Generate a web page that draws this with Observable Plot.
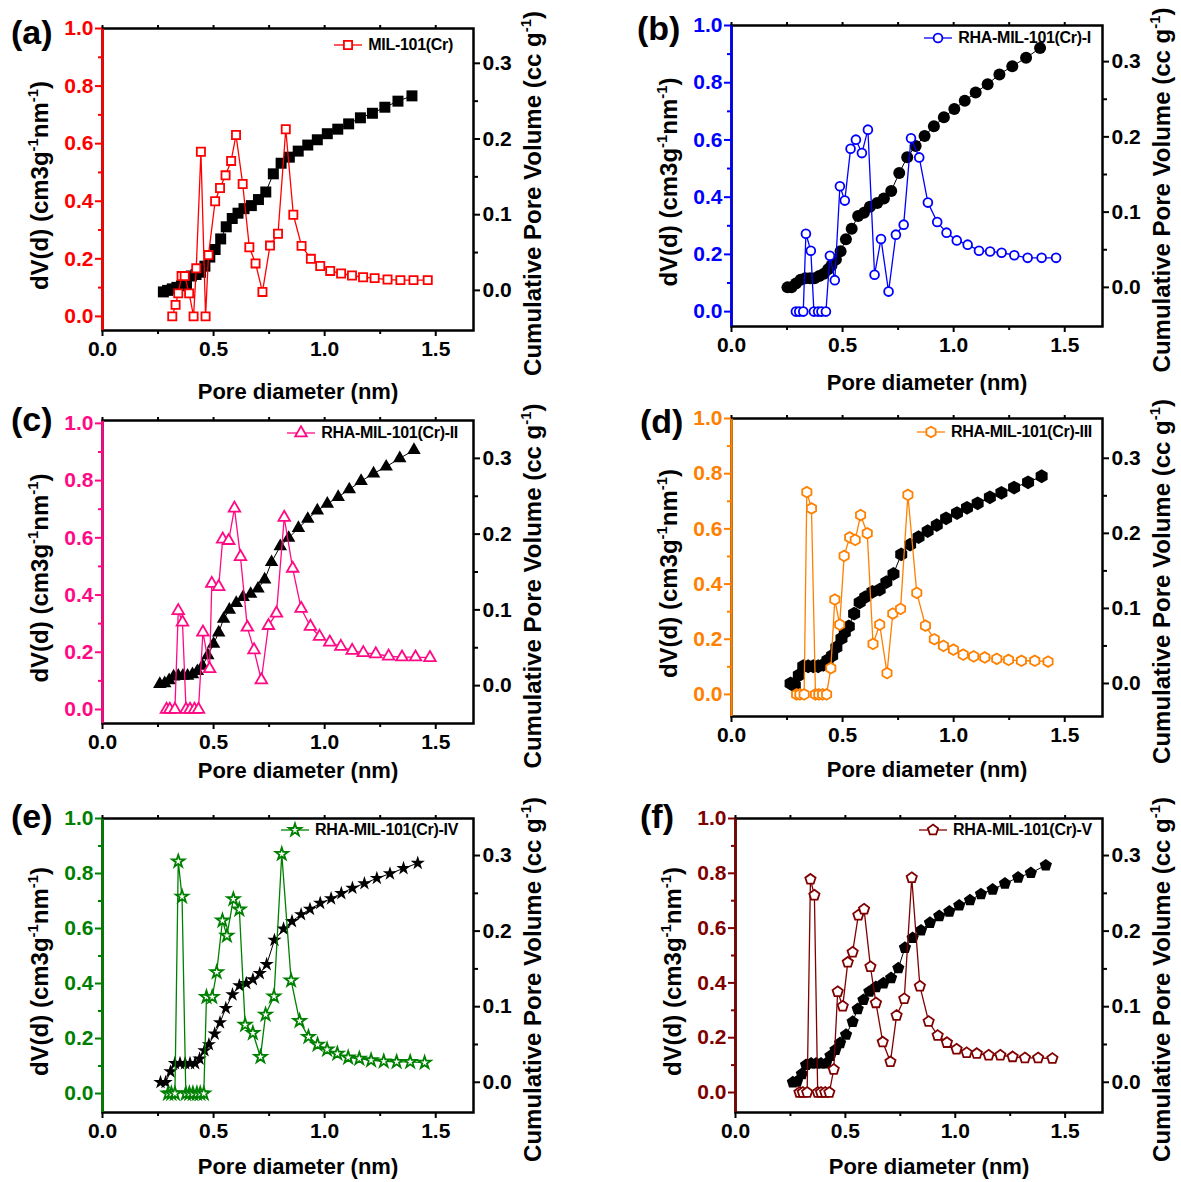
<!DOCTYPE html>
<html><head><meta charset="utf-8">
<script src="https://cdn.jsdelivr.net/npm/d3@7"></script>
<script src="https://cdn.jsdelivr.net/npm/@observablehq/plot@0.6"></script>
<style>
body{margin:0;background:#fff;overflow:hidden;}
#root{position:relative;width:1181px;height:1182px;font-family:"Liberation Sans",Arial,sans-serif;font-weight:bold;}
.panel{position:absolute;}
.plabel{position:absolute;font-size:34px;font-weight:bold;line-height:1;color:#000;}
.legend{position:absolute;display:flex;align-items:center;font-size:16px;font-weight:bold;letter-spacing:-0.3px;line-height:18px;color:#000;white-space:nowrap;}
.legend svg{margin-right:5px;overflow:visible;}
</style></head><body><div id="root"></div>
<script>
// ---------- data ----------
const letters = ["(a)","(b)","(c)","(d)","(e)","(f)"];
const names = ["MIL-101(Cr)","RHA-MIL-101(Cr)-I","RHA-MIL-101(Cr)-II","RHA-MIL-101(Cr)-III","RHA-MIL-101(Cr)-IV","RHA-MIL-101(Cr)-V"];
const xMajor = [0, 0.5, 1.0, 1.5];
const xMinor = [0.25, 0.75, 1.25];
const leftMajor = [0, 0.2, 0.4, 0.6, 0.8, 1.0];
const leftMinor = [0.1, 0.3, 0.5, 0.7, 0.9];
const rightMajor = [0, 0.1, 0.2, 0.3];
const rightMinor = [0.05, 0.15, 0.25];
const xTitle = "Pore diameter (nm)";
const leftTitleParts = [["dV(d) (cm3g",false],["-1",true],["nm",false],["-1",true],[")",false]];
const rightTitleParts = [["Cumulative Pore Volume (cc g",false],["-1",true],[")",false]];

const aPsdX = [0.314,0.329,0.341,0.356,0.370,0.390,0.410,0.422,0.443,0.464,0.477,0.507,0.529,0.554,0.579,0.601,0.631,0.661,0.689,0.720,0.754,0.790,0.825,0.859,0.896,0.938,0.980,1.025,1.074,1.123,1.173,1.225,1.283,1.341,1.400,1.464];
const aPsdY = [0.00,0.04,0.08,0.14,0.14,0.08,0.00,0.167,0.572,0.00,0.213,0.40,0.446,0.49,0.54,0.63,0.46,0.24,0.184,0.085,0.246,0.287,0.65,0.353,0.245,0.20,0.175,0.158,0.149,0.142,0.136,0.133,0.128,0.126,0.126,0.126];
const aCumX = [0.274,0.293,0.314,0.335,0.356,0.378,0.400,0.421,0.441,0.461,0.483,0.507,0.532,0.557,0.584,0.610,0.637,0.670,0.702,0.735,0.769,0.804,0.841,0.881,0.924,0.967,1.012,1.059,1.108,1.161,1.215,1.271,1.330,1.393];
const aCumY = [-0.002,0.000,0.002,0.004,0.006,0.008,0.019,0.021,0.024,0.032,0.044,0.054,0.068,0.084,0.095,0.102,0.108,0.112,0.120,0.130,0.154,0.168,0.176,0.184,0.192,0.199,0.207,0.213,0.220,0.228,0.234,0.242,0.250,0.257];

const bPsdX = [0.290,0.305,0.323,0.335,0.357,0.371,0.390,0.405,0.425,0.443,0.465,0.488,0.510,0.536,0.560,0.587,0.614,0.644,0.673,0.707,0.740,0.775,0.808,0.845,0.884,0.926,0.968,1.014,1.063,1.114,1.164,1.216,1.273,1.333,1.396,1.461];
const bPsdY = [0,0,0,0.272,0.213,0,0,0,0,0.195,0.110,0.438,0.388,0.569,0.601,0.554,0.636,0.129,0.254,0.070,0.269,0.304,0.606,0.539,0.381,0.313,0.276,0.249,0.234,0.213,0.210,0.206,0.197,0.188,0.188,0.188];
const bCumX = [0.252,0.270,0.290,0.311,0.332,0.353,0.374,0.395,0.416,0.435,0.450,0.470,0.491,0.515,0.541,0.570,0.596,0.623,0.656,0.686,0.719,0.755,0.791,0.829,0.869,0.911,0.956,1.003,1.050,1.099,1.153,1.206,1.264,1.326,1.389];
const bCumY = [0.000,0.000,0.005,0.010,0.012,0.012,0.012,0.015,0.018,0.024,0.029,0.037,0.048,0.064,0.078,0.095,0.099,0.107,0.112,0.118,0.128,0.152,0.173,0.188,0.201,0.214,0.226,0.237,0.248,0.259,0.270,0.283,0.294,0.305,0.318];

const cPsdX = [0.288,0.303,0.326,0.341,0.360,0.376,0.394,0.414,0.432,0.452,0.482,0.492,0.523,0.541,0.568,0.594,0.621,0.652,0.682,0.715,0.747,0.783,0.818,0.856,0.894,0.936,0.977,1.023,1.073,1.124,1.174,1.230,1.288,1.348,1.409,1.474];
const cPsdY = [0,0,0,0.345,0.305,0,0,0,0,0.270,0.142,0.440,0.429,0.595,0.590,0.703,0.534,0.287,0.208,0.103,0.293,0.336,0.671,0.493,0.353,0.290,0.255,0.235,0.220,0.206,0.198,0.194,0.186,0.183,0.183,0.181];
const cCumX = [0.258,0.280,0.300,0.320,0.341,0.362,0.383,0.405,0.427,0.450,0.474,0.500,0.523,0.545,0.571,0.602,0.633,0.667,0.700,0.730,0.761,0.800,0.838,0.882,0.924,0.967,1.012,1.061,1.111,1.164,1.220,1.277,1.338,1.402];
const cCumY = [0.002,0.003,0.007,0.012,0.013,0.013,0.013,0.015,0.019,0.026,0.040,0.055,0.070,0.088,0.100,0.109,0.117,0.121,0.128,0.140,0.163,0.184,0.195,0.208,0.220,0.231,0.240,0.249,0.259,0.270,0.280,0.289,0.300,0.311];

const dPsdX = [0.293,0.308,0.327,0.339,0.360,0.378,0.393,0.410,0.428,0.447,0.465,0.487,0.507,0.532,0.557,0.581,0.611,0.637,0.667,0.700,0.726,0.761,0.794,0.834,0.873,0.913,0.954,0.999,1.043,1.090,1.140,1.194,1.247,1.305,1.365,1.425];
const dPsdY = [0,0,0,0.733,0.674,0,0,0,0,0.095,0.344,0.253,0.502,0.569,0.560,0.650,0.584,0.183,0.253,0.077,0.293,0.310,0.723,0.368,0.249,0.200,0.176,0.162,0.144,0.138,0.134,0.129,0.125,0.122,0.122,0.119];
const dCumX = [0.266,0.285,0.303,0.323,0.345,0.368,0.390,0.413,0.432,0.453,0.472,0.495,0.510,0.528,0.552,0.577,0.602,0.634,0.667,0.697,0.729,0.764,0.804,0.842,0.883,0.924,0.966,1.015,1.060,1.108,1.163,1.215,1.272,1.335,1.396];
const dCumY = [0.000,-0.003,0.011,0.023,0.023,0.023,0.023,0.025,0.031,0.037,0.048,0.060,0.068,0.076,0.093,0.108,0.115,0.122,0.125,0.135,0.146,0.172,0.185,0.195,0.203,0.211,0.220,0.227,0.234,0.240,0.248,0.254,0.261,0.268,0.276];

const ePsdX = [0.295,0.310,0.326,0.341,0.358,0.375,0.391,0.407,0.425,0.440,0.456,0.468,0.494,0.514,0.540,0.560,0.589,0.616,0.642,0.677,0.711,0.734,0.772,0.807,0.849,0.887,0.927,0.968,1.011,1.057,1.106,1.156,1.209,1.266,1.324,1.385,1.450];
const ePsdY = [0,0,0,0.844,0.716,0,0,0,0,0,0,0.351,0.351,0.441,0.629,0.574,0.707,0.669,0.250,0.220,0.133,0.287,0.353,0.871,0.411,0.264,0.206,0.178,0.160,0.145,0.131,0.127,0.121,0.117,0.115,0.115,0.112];
const eCumX = [0.261,0.284,0.306,0.326,0.349,0.372,0.394,0.417,0.437,0.459,0.479,0.505,0.529,0.555,0.585,0.616,0.647,0.677,0.708,0.739,0.774,0.815,0.853,0.894,0.934,0.980,1.029,1.075,1.125,1.179,1.235,1.294,1.355,1.419];
const eCumY = [0.000,0.000,0.014,0.025,0.025,0.025,0.025,0.025,0.031,0.042,0.050,0.064,0.079,0.098,0.116,0.128,0.131,0.136,0.144,0.156,0.188,0.203,0.213,0.222,0.229,0.237,0.243,0.250,0.257,0.263,0.270,0.276,0.283,0.290];

const fPsdX = [0.291,0.306,0.326,0.341,0.359,0.374,0.389,0.408,0.427,0.447,0.465,0.488,0.511,0.533,0.559,0.585,0.614,0.639,0.670,0.705,0.733,0.768,0.802,0.839,0.879,0.920,0.962,1.006,1.052,1.098,1.152,1.205,1.261,1.317,1.377,1.442];
const fPsdY = [0,0,0,0.778,0.720,0,0,0,0,0.084,0.368,0.315,0.475,0.512,0.647,0.669,0.459,0.327,0.184,0.112,0.281,0.342,0.784,0.388,0.259,0.208,0.182,0.158,0.145,0.142,0.136,0.136,0.130,0.126,0.126,0.124];
const fCumX = [0.261,0.280,0.302,0.321,0.344,0.367,0.389,0.412,0.432,0.455,0.476,0.503,0.533,0.556,0.582,0.609,0.639,0.673,0.708,0.741,0.771,0.806,0.844,0.885,0.927,0.973,1.018,1.067,1.117,1.170,1.226,1.286,1.344,1.412];
const fCumY = [0.000,0.001,0.011,0.023,0.025,0.025,0.025,0.025,0.035,0.043,0.052,0.063,0.080,0.097,0.109,0.120,0.126,0.131,0.138,0.151,0.178,0.191,0.201,0.211,0.220,0.226,0.234,0.241,0.249,0.255,0.263,0.271,0.277,0.287];

// ---------- symbols ----------
const sqrt3 = Math.sqrt(3);
const symHexagon = {draw(ctx, size){ const rx = Math.sqrt(size/Math.PI), ry = rx*2/sqrt3, hy = ry/2;
  ctx.moveTo(0, ry); ctx.lineTo(rx, hy); ctx.lineTo(rx, -hy); ctx.lineTo(0, -ry); ctx.lineTo(-rx, -hy); ctx.lineTo(-rx, hy); ctx.closePath(); }};
const symPentagon = {draw(ctx, size){ const r = Math.sqrt(size/(2.5*Math.sin(2*Math.PI/5)));
  for (let i = 0; i < 5; i++){ const a = -Math.PI/2 + i*2*Math.PI/5; const x = r*Math.cos(a), y = r*Math.sin(a); if (i) ctx.lineTo(x,y); else ctx.moveTo(x,y); }
  ctx.closePath(); }};

// ---------- panel configuration ----------
const xDomain = [0, 1.67];
const FONT = "'Liberation Sans', Arial, sans-serif";
const panels = [
 {left:0,   top:0,   width:590, height:395, mt:28, mb:65, ml:102, mr:117, color:"#ff0000", sym:d3.symbolSquare, rOpen:4.6, rFill:6.2,
  ld:[-0.049,1.0], rd:[-0.053,0.346], psdX:aPsdX, psdY:aPsdY, cumX:aCumX, cumY:aCumY, lab:{x:11,y:15}, leg:{dx:20,dy:17}, xtDy:61},
 {left:590, top:0,   width:591, height:395, mt:25, mb:69, ml:141, mr:79, color:"#0000ff", sym:d3.symbolCircle, rOpen:4.4, rFill:6,
  ld:[-0.052,1.0], rd:[-0.052,0.348], psdX:bPsdX, psdY:bPsdY, cumX:bCumX, cumY:bCumY, lab:{x:637,y:11}, leg:{dx:11,dy:13}, xtDy:56},
 {left:0,   top:395, width:590, height:395, mt:25, mb:67, ml:102, mr:117, color:"#ff0a84", sym:d3.symbolTriangle, rOpen:4.3, rFill:5,
  ld:[-0.049,1.01], rd:[-0.050,0.350], psdX:cPsdX, psdY:cPsdY, cumX:cCumX, cumY:cCumY, lab:{x:11,y:402}, leg:{dx:15,dy:13}, xtDy:47},
 {left:590, top:395, width:591, height:395, mt:23, mb:74, ml:141, mr:79, color:"#ff8000", sym:symHexagon, rOpen:4.6, rFill:6,
  ld:[-0.080,1.0], rd:[-0.044,0.353], psdX:dPsdX, psdY:dPsdY, cumX:dCumX, cumY:dCumY, lab:{x:640,y:404}, leg:{dx:10,dy:14}, xtDy:53},
 {left:0,   top:790, width:590, height:392, mt:28, mb:70, ml:102, mr:117, color:"#008000", sym:d3.symbolStar, rOpen:3.9, rFill:4.5,
  ld:[-0.069,1.0], rd:[-0.040,0.349], psdX:ePsdX, psdY:ePsdY, cumX:eCumX, cumY:eCumY, lab:{x:11,y:799}, leg:{dx:15,dy:12}, xtDy:54},
 {left:590, top:790, width:591, height:392, mt:28, mb:70, ml:145, mr:79, color:"#800000", sym:symPentagon, rOpen:4.7, rFill:5.6,
  ld:[-0.073,1.0], rd:[-0.040,0.349], psdX:fPsdX, psdY:fPsdY, cumX:fCumX, cumY:fCumY, lab:{x:640,y:799}, leg:{dx:10,dy:12}, xtDy:54}
];

function richify(svg, plain, parts, fs) {
  d3.select(svg).selectAll("text").filter(function(){ return this.textContent === plain; }).each(function(){
    const t = d3.select(this); t.text(null);
    let up = false; const shift = fs*0.42;
    for (const [s, sup] of parts) {
      const ts = t.append("tspan").text(s);
      if (sup) { ts.attr("font-size", fs*0.62); if (!up) { ts.attr("dy", -shift); up = true; } }
      else if (up) { ts.attr("dy", shift); up = false; }
    }
  });
}
const plainOf = parts => parts.map(p => p[0]).join("");
const fmt1 = v => (Math.abs(v) < 1e-9 ? 0 : v).toFixed(1);

const root = document.getElementById("root");
panels.forEach((p, k) => {
  const [l0, l1] = p.ld, [r0, r1] = p.rd;
  const toL = v => l0 + (v - r0) * (l1 - l0) / (r1 - r0);
  const fromL = v => Math.round((r0 + (v - l0) * (r1 - r0) / (l1 - l0)) * 100) / 100;
  const psd = p.psdX.map((x, i) => ({x, y: p.psdY[i]}));
  const cum = p.cumX.map((x, i) => ({x, y: toL(p.cumY[i])}));
  const c = p.color;
  const leftPlain = plainOf(leftTitleParts), rightPlain = plainOf(rightTitleParts);
  const svg = Plot.plot({
    width: p.width, height: p.height,
    marginTop: p.mt, marginBottom: p.mb, marginLeft: p.ml, marginRight: p.mr,
    x: {domain: xDomain, label: null},
    y: {domain: p.ld, label: null},
    style: {fontFamily: FONT, fontWeight: "bold", fontSize: "21px", background: "transparent", overflow: "visible", color: "black"},
    marks: [
      Plot.line(cum, {x: "x", y: "y", stroke: "black", strokeWidth: 1}),
      Plot.dot(cum, {x: "x", y: "y", symbol: p.sym, r: p.rFill, fill: "black", stroke: "none"}),
      Plot.line(psd, {x: "x", y: "y", stroke: c, strokeWidth: 1.3}),
      Plot.dot(psd, {x: "x", y: "y", symbol: p.sym, r: p.rOpen, fill: "white", stroke: c, strokeWidth: 1.8}),
      Plot.frame({stroke: "black", strokeWidth: 2.5}),
      Plot.ruleX([xDomain[0]], {stroke: c, strokeWidth: 2.5}),
      Plot.axisX({anchor: "bottom", ticks: xMajor, tickSize: 6, tickPadding: 5, tickFormat: fmt1, fontSize: 21, fontWeight: "bold", strokeWidth: 2, label: null}),
      Plot.axisX({anchor: "bottom", ticks: xMinor, tickSize: 4, tickFormat: () => "", strokeWidth: 2, label: null}),
      Plot.axisX({anchor: "top", ticks: [...xMajor, ...xMinor], tickSize: 4, tickFormat: () => "", strokeWidth: 2, label: null}),
      Plot.axisY({anchor: "left", ticks: leftMajor, tickSize: 7, tickPadding: 2, tickFormat: fmt1, color: c, fontSize: 21, fontWeight: "bold", strokeWidth: 2, label: null}),
      Plot.axisY({anchor: "left", ticks: leftMinor, tickSize: 4, tickFormat: () => "", color: c, strokeWidth: 2, label: null}),
      Plot.axisY({anchor: "right", ticks: rightMajor.map(toL), tickSize: 6, tickPadding: 3, tickFormat: d => fmt1(fromL(d)), fontSize: 21, fontWeight: "bold", strokeWidth: 2, label: null}),
      Plot.axisY({anchor: "right", ticks: rightMinor.map(toL), tickSize: 4, tickFormat: () => "", strokeWidth: 2, label: null}),
      Plot.text([xTitle], {frameAnchor: "bottom", text: d => d, textAnchor: "middle", lineAnchor: "middle", dx: 10, dy: p.xtDy, fontSize: 22, fontWeight: "bold", fill: "black"}),
      Plot.text([leftPlain], {frameAnchor: "left", text: d => d, textAnchor: "middle", lineAnchor: "middle", dx: -62, dy: 6, rotate: -90, fontSize: 24, fontWeight: "bold", fill: "black"}),
      Plot.text([rightPlain], {frameAnchor: "right", text: d => d, textAnchor: "middle", lineAnchor: "middle", dx: 60, dy: 14, rotate: -90, fontSize: 24, fontWeight: "bold", fill: "black"})
    ]
  });
  richify(svg, leftPlain, leftTitleParts, 24);
  richify(svg, rightPlain, rightTitleParts, 24);

  const div = document.createElement("div");
  div.className = "panel";
  div.style.left = p.left + "px"; div.style.top = p.top + "px";
  div.appendChild(svg);
  root.appendChild(div);

  const lab = document.createElement("div");
  lab.className = "plabel"; lab.textContent = letters[k];
  lab.style.left = p.lab.x + "px"; lab.style.top = p.lab.y + "px";
  root.appendChild(lab);

  const frameRight = p.left + p.width - p.mr;
  const leg = document.createElement("div");
  leg.className = "legend";
  leg.style.right = (1181 - frameRight + p.leg.dx) + "px";
  leg.style.top = (p.top + p.mt + p.leg.dy - 9) + "px";
  const sw = d3.create("svg").attr("width", 30).attr("height", 18);
  sw.append("line").attr("x1", 1).attr("x2", 29).attr("y1", 9).attr("y2", 9).attr("stroke", c).attr("stroke-width", 1.3);
  sw.append("path").attr("transform", "translate(15,9)")
    .attr("d", d3.symbol(p.sym, Math.PI * p.rOpen * p.rOpen)())
    .attr("fill", "white").attr("stroke", c).attr("stroke-width", 1.8);
  leg.appendChild(sw.node());
  const sp = document.createElement("span"); sp.textContent = names[k];
  leg.appendChild(sp);
  root.appendChild(leg);
});
</script></body></html>
